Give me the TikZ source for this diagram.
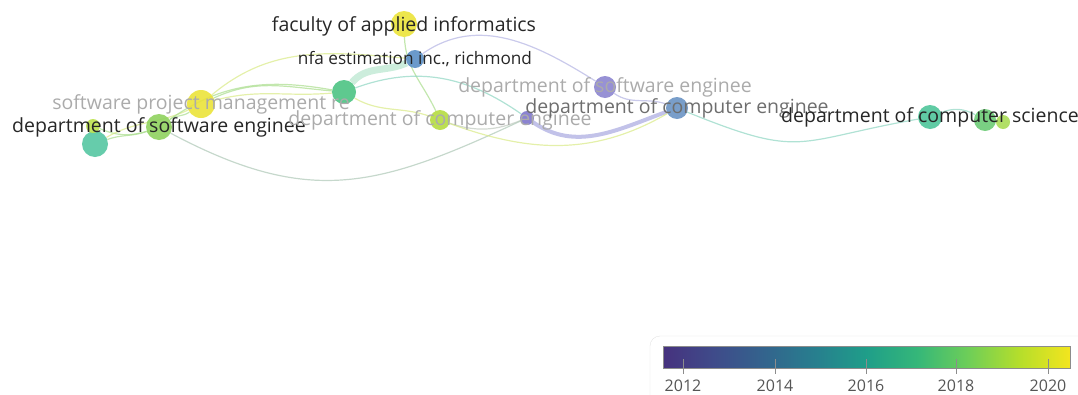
\documentclass[tikz,border=0pt]{standalone}
\usepackage{fontspec}
\setmainfont{Open Sans}
\usetikzlibrary{backgrounds}

% colour scale, 2011.5 .. 2020.5 (the bar is filled by 25bp..75bp)
\definecolor{vir0}{HTML}{46327E}
\definecolor{vir1}{HTML}{3F4B8A}
\definecolor{vir2}{HTML}{33648D}
\definecolor{vir3}{HTML}{277F8E}
\definecolor{vir4}{HTML}{1F9E89}
\definecolor{vir5}{HTML}{35B779}
\definecolor{vir6}{HTML}{6ECE58}
\definecolor{vir7}{HTML}{B5DE2B}
\definecolor{vir8}{HTML}{F3E51E}
\pgfdeclarehorizontalshading{viridis}{100bp}{color(0bp)=(vir0); color(25bp)=(vir0); color(31.25bp)=(vir1); color(37.5bp)=(vir2); color(43.75bp)=(vir3); color(50bp)=(vir4); color(56.25bp)=(vir5); color(62.5bp)=(vir6); color(68.75bp)=(vir7); color(75bp)=(vir8); color(100bp)=(vir8)}

% item colours
\definecolor{cTeal}{HTML}{55C6A2}
\definecolor{cLime}{HTML}{BDE24E}
\definecolor{cGreen}{HTML}{8FD25E}
\definecolor{cYellow}{HTML}{EBE33A}
\definecolor{cMint}{HTML}{4CC383}
\definecolor{cBlue}{HTML}{5B8FC5}
\definecolor{cLimeB}{HTML}{B5DC3F}
\definecolor{cPurple}{HTML}{7E76CC}
\definecolor{cPurpleB}{HTML}{8C85D0}
\definecolor{cBlueB}{HTML}{6A94C4}
\definecolor{cTealB}{HTML}{4FC59A}
\definecolor{cGreenB}{HTML}{6CCB76}
\definecolor{cLimeC}{HTML}{A9DC55}

\definecolor{txtdark}{HTML}{262626}
\definecolor{txtmid}{HTML}{6E6E6E}
\definecolor{txtlight}{HTML}{ABABAB}
\definecolor{lgreen}{HTML}{A9DD8C}
\definecolor{lyellow}{HTML}{D9EA86}
\definecolor{lteal}{HTML}{8ED5C2}
\definecolor{llav}{HTML}{B3B3E3}
\definecolor{lgrey}{HTML}{BFC9BE}
\definecolor{band}{HTML}{BFE9D3}
\definecolor{frame}{HTML}{E3E3E3}
\definecolor{tick}{HTML}{8C8C8C}
\definecolor{yeartxt}{HTML}{555555}

\tikzset{
	bubble/.style={circle, inner sep=0pt, minimum size=2*#1, fill opacity=.9},
	itemtext/.style={font=\fontsize{19.5}{19.5}\selectfont, text=#1, inner sep=0pt},
	link/.style={line width=1.2pt, draw opacity=.7, draw=#1},
}

\begin{document}
\begin{tikzpicture}[x=1pt, y=1pt]
	\useasboundingbox (0,0) rectangle (1078,-394);
	%\draw[help lines, step=50] (0,0) grid (1078,-394);
	
	% items
	\node[bubble=13, fill=cTeal] (sweA) at (95,-144) {};
	\node[bubble=7, fill=cLime] (sweB) at (93,-126) {};
	\node[bubble=13, fill=cGreen] (swe) at (159,-127) {};
	\node[bubble=14, fill=cYellow] (spm) at (201,-104) {};
	\node[bubble=12, fill=cMint] (grn) at (344,-92) {};
	\node[bubble=13, fill=cYellow] (fai) at (404,-24) {};
	\node[bubble=9, fill=cBlue] (nfa) at (415,-59) {};
	\node[bubble=10, fill=cLimeB] (dce) at (440,-120) {};
	\node[bubble=7, fill=cPurple] (pur) at (527,-118) {};
	\node[bubble=11, fill=cPurpleB] (dse) at (605,-87) {};
	\node[bubble=11, fill=cBlueB] (dceB) at (677,-108) {};
	\node[bubble=12, fill=cTealB] (dcs) at (930,-117) {};
	\node[bubble=11, fill=cGreenB] (dcsB) at (985,-120) {};
	\node[bubble=7, fill=cLimeC] (dcsC) at (1003,-122) {};
	
	% links
	\begin{scope}[on background layer]
		\draw[link=lgreen] (sweB) to[bend right=20] (swe);
		\draw[link=lgreen] (sweA) to[out=20, in=200] (swe);
		\draw[link=lyellow] (sweA) to[out=30, in=205] (spm);
		\draw[link=lgreen] (swe) to[out=35, in=215] (spm);
		\draw[link=lgreen] (swe) to[out=35, in=170] (grn);
		\draw[link=lgreen] (spm) to[out=25, in=175] (grn);
		\draw[link=lyellow] (spm) to[out=15, in=185] (grn);
		\draw[link=lyellow] (spm) to[out=40, in=175] (nfa);
		\draw[line width=7pt, draw=band, draw opacity=.8] (grn) to[out=50, in=205] (nfa);
		\draw[link=lgreen] (fai) to[out=-88, in=115] (dce);
		\draw[link=lyellow] (grn) to[out=-30, in=160] (dce);
		\draw[link=lteal] (grn) to[out=20, in=145] (pur);
		\draw[link=lgrey] (dce) to[bend right=20] (pur);
		\draw[line width=4pt, draw=llav, draw opacity=.8] (pur) to[out=-35, in=200] (dceB);
		\draw[link=lgreen!50!llav] (swe) to[out=-28, in=205, looseness=1.15] (pur);
		\draw[link=llav] (nfa) to[out=35, in=148] (dse);
		\draw[link=llav] (dse) to[out=-35, in=160] (dceB);
		\draw[link=lyellow] (dce) to[out=-20, in=210] (dceB);
		\draw[link=lteal] (dceB) to[out=-22, in=190, looseness=1.4] (dcs);
		\draw[link=lteal] (dcs) to[bend left=25] (dcsB);
		\draw[link=lgreen] (dcsB) -- (dcsC);
	\end{scope}
	
	% labels
	\node[itemtext=txtlight] (spm-t) at (spm) {software project management re};
	\node[itemtext=txtdark] (swe-t) at (swe) {department of software enginee};
	\node[itemtext=txtdark] (fai-t) at ([yshift=-2]fai) {faculty of applied informatics};
	\node[itemtext=txtdark, font=\fontsize{17.2}{17.2}\selectfont] (nfa-t) at (nfa) {nfa estimation inc., richmond};
	\node[itemtext=txtlight] (dce-t) at (dce) {department of computer enginee};
	\node[itemtext=txtlight] (dse-t) at (dse) {department of software enginee};
	\node[itemtext=txtmid] (dceB-t) at (dceB) {department of computer enginee};
	\node[itemtext=txtdark] (dcs-t) at (dcs) {department of computer science};
	
	% legend
	\draw[draw=frame, rounded corners=10] (650,-336) rectangle (1100,-420);
	\shade[shading=viridis] (663,-346) rectangle (1070,-368);
	\draw[draw=tick, line width=1pt] (663,-346) rectangle (1070,-368);
	\foreach \yr/\x in {2012/683, 2014/775, 2016/866, 2018/956, 2020/1048}{
		\draw[draw=tick, line width=1pt] (\x,-359) -- (\x,-374);
		\node[text=yeartxt, font=\fontsize{16}{16}\selectfont] (yr\yr) at (\x,-386) {\yr};
	}
\end{tikzpicture}
\end{document}
